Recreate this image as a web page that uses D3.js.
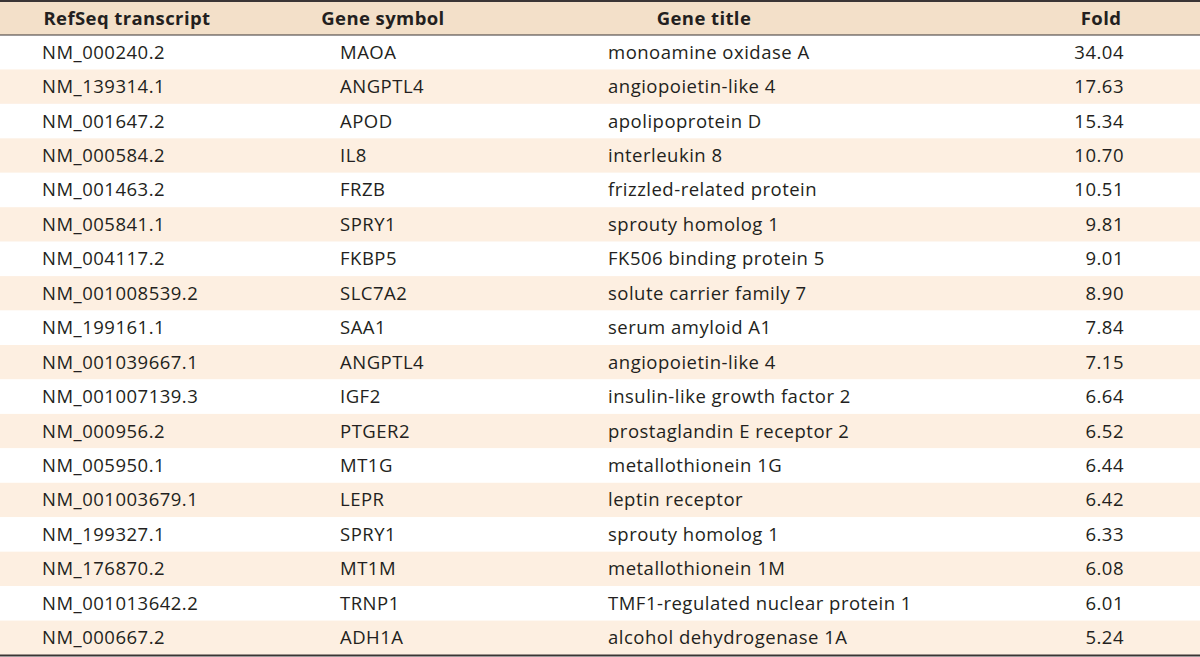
<!DOCTYPE html>
<html>
<head>
<meta charset="utf-8">
<script src="https://cdn.jsdelivr.net/npm/d3@7"></script>
<style>
  body { margin: 0; background: #fff; }
  svg { display: block; font-family: "Open Sans", "Noto Sans", sans-serif; }
</style>
</head>
<body>
<svg id="chart" width="1200" height="657"></svg>
<script>
"use strict";

// table content
const headers = ["RefSeq transcript", "Gene symbol", "Gene title", "Fold"];
const transcripts = ["NM_000240.2", "NM_139314.1", "NM_001647.2", "NM_000584.2", "NM_001463.2",
  "NM_005841.1", "NM_004117.2", "NM_001008539.2", "NM_199161.1", "NM_001039667.1",
  "NM_001007139.3", "NM_000956.2", "NM_005950.1", "NM_001003679.1", "NM_199327.1",
  "NM_176870.2", "NM_001013642.2", "NM_000667.2"];
const symbols = ["MAOA", "ANGPTL4", "APOD", "IL8", "FRZB", "SPRY1", "FKBP5", "SLC7A2", "SAA1",
  "ANGPTL4", "IGF2", "PTGER2", "MT1G", "LEPR", "SPRY1", "MT1M", "TRNP1", "ADH1A"];
const titles = ["monoamine oxidase A", "angiopoietin-like 4", "apolipoprotein D", "interleukin 8",
  "frizzled-related protein", "sprouty homolog 1", "FK506 binding protein 5",
  "solute carrier family 7", "serum amyloid A1", "angiopoietin-like 4",
  "insulin-like growth factor 2", "prostaglandin E receptor 2", "metallothionein 1G",
  "leptin receptor", "sprouty homolog 1", "metallothionein 1M",
  "TMF1-regulated nuclear protein 1", "alcohol dehydrogenase 1A"];
const folds = [34.04, 17.63, 15.34, 10.70, 10.51, 9.81, 9.01, 8.90, 7.84, 7.15,
  6.64, 6.52, 6.44, 6.42, 6.33, 6.08, 6.01, 5.24];

const W = 1200;
const tableTop = 2, headH = 33, tableBottom = 655;
const svg = d3.select("#chart");

const rowIdx = d3.range(transcripts.length);
const y = d3.scaleBand().domain(rowIdx).range([tableTop + headH, tableBottom]);

// header band
svg.append("rect").attr("x", 0).attr("y", tableTop).attr("width", W).attr("height", headH)
  .attr("fill", "#f3e0c9");

// striped rows
svg.selectAll("rect.row").data(rowIdx).join("rect")
  .attr("class", "row")
  .attr("x", 0).attr("y", d => y(d)).attr("width", W).attr("height", y.bandwidth())
  .attr("fill", d => d % 2 ? "#fdefe1" : "#fff");

// rules
const rule = (yy, w) => svg.append("line").attr("x1", 0).attr("x2", W)
  .attr("y1", yy).attr("y2", yy).attr("stroke", "#3a3535").attr("stroke-width", w);
rule(1, 2);
rule(tableTop + headH, 1.2);
rule(tableBottom + 0.5, 2);

const ink = "#231f20";
const fs = 18.5;

// header labels
const headX = [127, 383, 704, 1101];
svg.selectAll("text.head").data(headers).join("text")
  .attr("class", "head")
  .attr("x", (d, i) => headX[i]).attr("y", tableTop + headH / 2)
  .attr("dy", "0.35em").attr("text-anchor", "middle")
  .attr("font-weight", "bold").attr("font-size", fs).attr("fill", ink)
  .attr("letter-spacing", 0.4)
  .text(d => d);

// body cells
const cols = [
  { vals: transcripts, x: 42, anchor: "start" },
  { vals: symbols, x: 340, anchor: "start" },
  { vals: titles, x: 608, anchor: "start" },
  { vals: folds.map(d => d.toFixed(2)), x: 1124, anchor: "end" }
];
cols.forEach(c => {
  svg.append("g").selectAll("text").data(c.vals).join("text")
    .attr("x", c.x).attr("y", (d, i) => y(i) + y.bandwidth() / 2)
    .attr("dy", "0.35em").attr("text-anchor", c.anchor)
    .attr("font-size", fs).attr("fill", ink)
    .attr("letter-spacing", 0.5)
    .text(d => d);
});
</script>
</body>
</html>
